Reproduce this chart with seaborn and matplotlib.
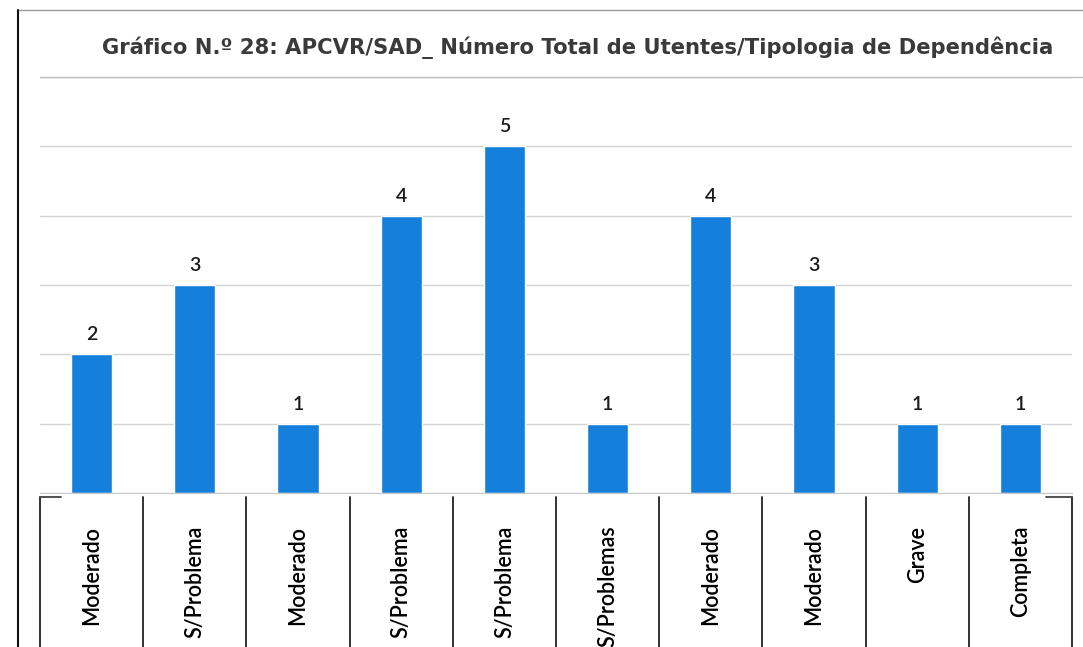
import numpy as np
import pandas as pd
import matplotlib
matplotlib.use("Agg")
import matplotlib.pyplot as plt
from matplotlib.lines import Line2D
import seaborn as sns

# Dados do gráfico
categorias = ['Moderado', 'S/Problema', 'Moderado', 'S/Problema', 'S/Problema',
              'S/Problemas', 'Moderado', 'Moderado', 'Grave', 'Completa']
utentes = [2, 3, 1, 4, 5, 1, 4, 3, 1, 1]
titulo = 'Gráfico N.º 28: APCVR/SAD_ Número Total de Utentes/Tipologia de Dependência'

sns.set_style('white')
plt.rcParams['font.family'] = ['Lato', 'DejaVu Sans']

df = pd.DataFrame({'pos': range(len(categorias)), 'utentes': utentes})

fig = plt.figure(figsize=(10.83, 6.47), dpi=100)
ax = fig.add_axes([40 / 1083, 1 - 493 / 647, 1032 / 1083, 416 / 647])

sns.barplot(data=df, x='pos', y='utentes', color='#1580dc', width=0.4,
            saturation=1, ax=ax)

ax.set_ylim(0, 6)
ax.set_xlim(-0.5, len(categorias) - 0.5)
ax.set_yticks(range(0, 7))
ax.yaxis.grid(True, color='#d4d4d4', linewidth=1)
ax.set_axisbelow(True)
ax.tick_params(axis='y', left=False, labelleft=False)
ax.tick_params(axis='x', bottom=False, pad=20)
ax.set_xticks(range(len(categorias)))
ax.set_xticklabels(categorias, rotation=90, fontsize=15.5, color='#000000',
                   va='top', fontweight='semibold')
ax.set_xlabel('')
ax.set_ylabel('')
for s in ['top', 'right', 'left']:
    ax.spines[s].set_visible(False)
ax.spines['bottom'].set_color('#c8c8c8')

for cont in ax.containers:
    ax.bar_label(cont, padding=8, fontsize=14, color='#1a1a1a',
                 fontweight='semibold')

# separadores das categorias (estilo Excel)
trans = ax.get_xaxis_transform()
for b in np.arange(-0.5, len(categorias), 1.0):
    ax.plot([b, b], [-0.01, -0.4], transform=trans, color='#222222',
            linewidth=1.3, clip_on=False)
ax.plot([-0.5, -0.3], [-0.01, -0.01], transform=trans, color='#444444',
        linewidth=1.3, clip_on=False)
ax.plot([len(categorias) - 0.75, len(categorias) - 0.5], [-0.01, -0.01],
        transform=trans, color='#444444', linewidth=1.3, clip_on=False)

fig.text(0.533, 1 - 48 / 647, titulo, ha='center', va='center',
         fontsize=15.2, fontweight='bold', color='#3a3a3a',
         family=['DejaVu Sans'])

# moldura digitalizada
fig.add_artist(Line2D([18 / 1083, 1.0], [1 - 10 / 647, 1 - 10 / 647],
                      color='#9a9a9a', linewidth=1))
fig.add_artist(Line2D([18 / 1083, 18 / 1083], [0, 1 - 10 / 647],
                      color='#111111', linewidth=1.5))
fig.add_artist(Line2D([40 / 1083, 1.0], [1 - 77 / 647, 1 - 77 / 647],
                      color='#bdbdbd', linewidth=1))

fig.savefig('out.png', dpi=100)
